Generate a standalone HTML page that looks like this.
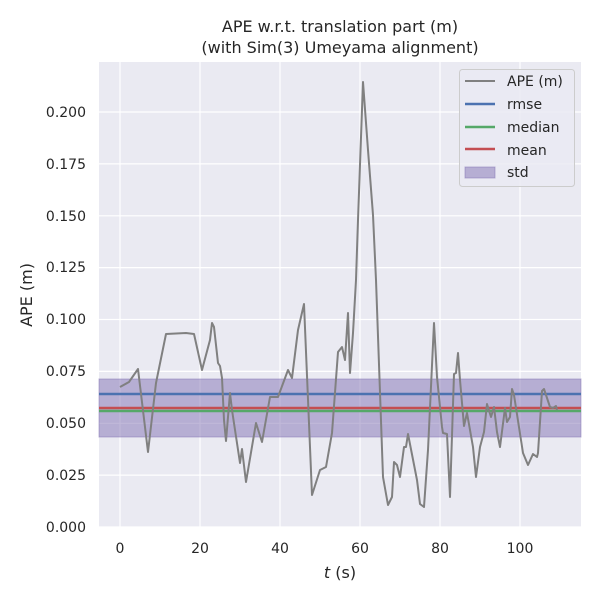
<!DOCTYPE html>
<html><head><style>body{margin:0;background:#fff}svg{display:block}text{font-family:"DejaVu Sans","Liberation Sans",sans-serif;fill:#262626}</style></head><body>
<svg width="600" height="600" viewBox="0 0 600 600">
<rect x="99" y="62" width="482" height="465" fill="#eaeaf2"/>
<g stroke="#fff" stroke-width="1.2">
<line x1="120" y1="62" x2="120" y2="527"/><line x1="200" y1="62" x2="200" y2="527"/><line x1="280" y1="62" x2="280" y2="527"/><line x1="360" y1="62" x2="360" y2="527"/><line x1="440" y1="62" x2="440" y2="527"/><line x1="520" y1="62" x2="520" y2="527"/>
<line x1="99" y1="527" x2="581" y2="527"/><line x1="99" y1="475.1" x2="581" y2="475.1"/><line x1="99" y1="423.3" x2="581" y2="423.3"/><line x1="99" y1="371.4" x2="581" y2="371.4"/><line x1="99" y1="319.5" x2="581" y2="319.5"/><line x1="99" y1="267.6" x2="581" y2="267.6"/><line x1="99" y1="215.8" x2="581" y2="215.8"/><line x1="99" y1="163.9" x2="581" y2="163.9"/><line x1="99" y1="112" x2="581" y2="112"/>
</g>
<rect x="99" y="379" width="482" height="58" fill="#8172b3" fill-opacity="0.5" stroke="#8172b3" stroke-opacity="0.5"/>
<line x1="99" y1="394" x2="581" y2="394" stroke="#4c72b0" stroke-width="2.5"/>
<line x1="99" y1="411" x2="581" y2="411" stroke="#55a868" stroke-width="2.5"/>
<line x1="99" y1="408" x2="581" y2="408" stroke="#c44e52" stroke-width="2.5"/>
<polyline fill="none" stroke="#808080" stroke-width="2" stroke-linejoin="round" points="120,387 129,382 138,369 148,452 156,383 166,334 186,333 194,334 202,370 210,340 212,323 214,327 218,363 220,366 222,378 224,420 226,441 230,393 232,410 240,463 242,449 246,482 256,423 262,442 270,397 278,397 288,370 292,378 298,330 304,304 312,495 320,470 326,467 332,433 338,352 342,347 345,360 348,313 350,373 353,333 356,280 358,220 363,82 368,150 373,215 376,280 383,477 388,505 392,497 394,462 397,465 400,477 404,447 406,447 408,434 417,480 420,504 424,507 428,450 434,323 437,377 442,427 443,433 447,434 450,497 454,374 456,373 458,353 460,380 464,426 467,413 473,447 476,477 480,447 484,432 487,404 491,417 494,407 497,432 500,447 505,408 507,422 510,417 512,389 514,395 523,453 528,465 533,454 537,457 538,453 542,391 544,389 550,407 553,408 556,406 557,410"/>
<g font-size="14" text-anchor="end">
<text x="86" y="532">0.000</text><text x="86" y="480">0.025</text><text x="86" y="428">0.050</text><text x="86" y="376">0.075</text><text x="86" y="324">0.100</text><text x="86" y="272">0.125</text><text x="86" y="221">0.150</text><text x="86" y="169">0.175</text><text x="86" y="117">0.200</text>
</g>
<g font-size="14" text-anchor="middle">
<text x="120" y="553">0</text><text x="200" y="553">20</text><text x="280" y="553">40</text><text x="360" y="553">60</text><text x="440" y="553">80</text><text x="520" y="553">100</text>
<text x="340" y="578" font-size="16"><tspan font-style="italic">t</tspan> (s)</text>
<text x="340" y="32" font-size="16">APE w.r.t. translation part (m)</text>
<text x="340" y="53" font-size="16">(with Sim(3) Umeyama alignment)</text>
</g>
<text transform="translate(32,295) rotate(-90)" font-size="16" text-anchor="middle">APE (m)</text>
<rect x="459.5" y="69.5" width="115" height="117" rx="3" fill="#eaeaf2" fill-opacity="0.8" stroke="#ccc"/>
<line x1="465" y1="81" x2="495" y2="81" stroke="#808080" stroke-width="2"/>
<line x1="465" y1="104" x2="495" y2="104" stroke="#4c72b0" stroke-width="2.5"/>
<line x1="465" y1="127" x2="495" y2="127" stroke="#55a868" stroke-width="2.5"/>
<line x1="465" y1="149" x2="495" y2="149" stroke="#c44e52" stroke-width="2.5"/>
<rect x="465" y="167" width="30" height="11" fill="#8172b3" fill-opacity="0.5" stroke="#8172b3" stroke-opacity="0.5"/>
<g font-size="14"><text x="507" y="86">APE (m)</text><text x="507" y="109">rmse</text><text x="507" y="132">median</text><text x="507" y="155">mean</text><text x="507" y="177">std</text></g>
</svg>
</body></html>
